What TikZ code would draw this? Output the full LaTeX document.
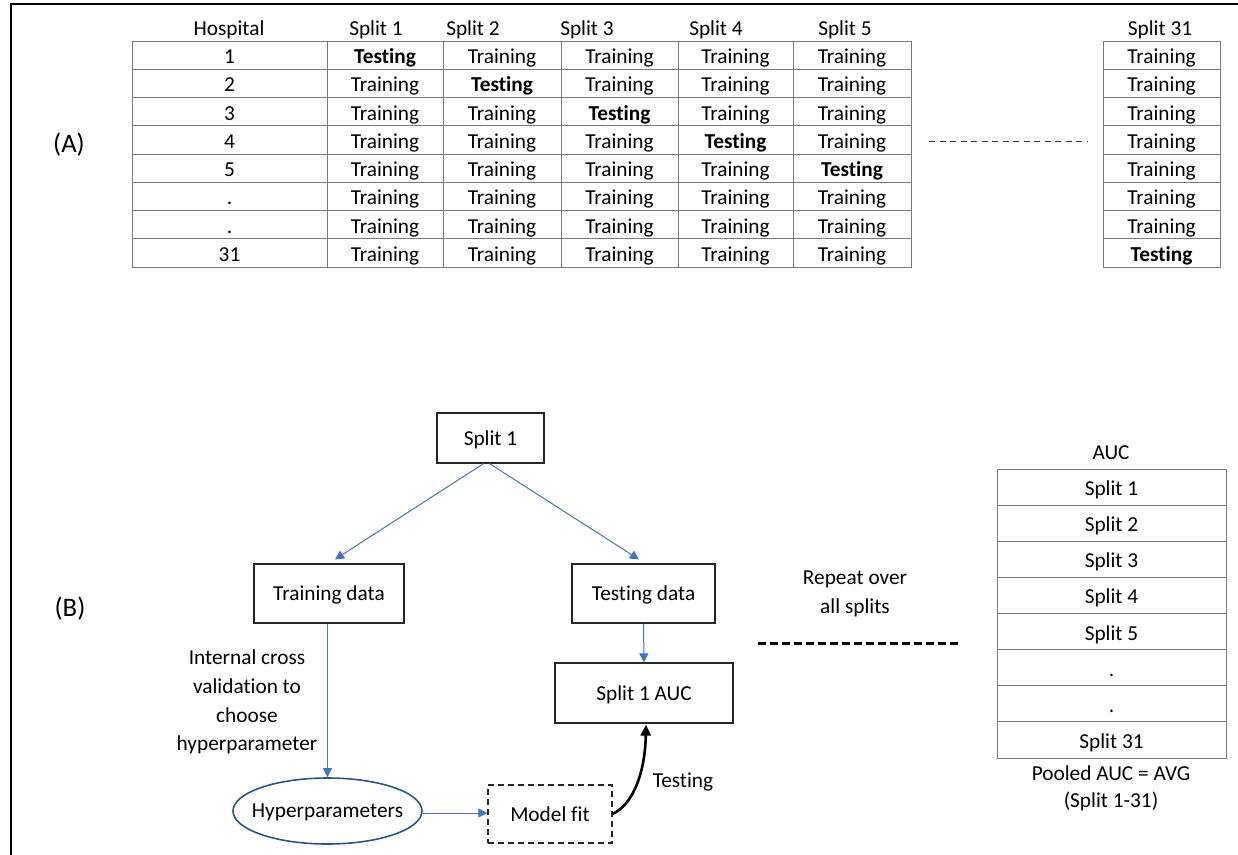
\documentclass[tikz,border=0pt]{standalone}
\usepackage{fontspec}
\setmainfont{Carlito}[Ligatures=NoCommon]
\usetikzlibrary{arrows.meta,shapes.geometric,calc}

\definecolor{flowblue}{HTML}{4472C4}
\definecolor{ringblue}{HTML}{2F528F}
\definecolor{gridgray}{HTML}{7A7A7A}

\tikzset{
  txt/.style={font=\fontsize{21.3}{28.7}\selectfont, inner sep=0pt, align=center},
  panel/.style={font=\fontsize{26.7}{30}\selectfont, inner sep=0pt},
  cell/.style={txt, draw=gridgray, line width=1pt, minimum height=28.25pt, text height=20.8pt, text depth=4pt},
  auccell/.style={txt, draw=gridgray, line width=1pt, minimum height=36.125pt, minimum width=229pt, text height=21pt, text depth=4pt},
  box/.style={txt, draw=black!85, line width=1.2pt, text height=18.5pt, text depth=4pt},
  flow/.style={draw=flowblue, line width=1pt, -{Triangle[length=9pt,width=9pt]}},
  testarrow/.style={draw=black, line width=2.6pt, -{Triangle[length=11pt,width=10pt]}},
}

\begin{document}
\begin{tikzpicture}[x=1pt,y=-1pt]
\useasboundingbox (0,0) rectangle (1238,854);

% outer frame (left and top edges)
\draw[line width=2pt] (11,856) -- (11,4) -- (1240,4);

% ---------- (A) split table ----------
\node[panel] (labA) at (69,145) {(A)};

\node[txt] (hHosp) at (229,29.5) {Hospital};
\node[txt] (hS1) at (376,29.5) {Split 1};
\node[txt] (hS2) at (473,29.5) {Split 2};
\node[txt] (hS3) at (587,29.5) {Split 3};
\node[txt] (hS4) at (716,29.5) {Split 4};
\node[txt] (hS5) at (845,29.5) {Split 5};
\node[txt] (hS31) at (1160,29.5) {Split 31};

\foreach \r/\lab in {1/1,2/2,3/3,4/4,5/5,6/.,7/.,8/31}{
  \pgfmathsetmacro{\yy}{41+28.25*(\r-0.5)}
  \node[cell, minimum width=195pt] (hosp\r) at (229.5,\yy) {\lab};
  \foreach \c/\xx/\ww in {1/385/116,2/502/118,3/619.5/117,4/735.5/115,5/852/118}{
    \ifnum\r=\c
      \node[cell, minimum width=\ww pt] (s\c r\r) at (\xx,\yy) {\textbf{Testing}};
    \else
      \node[cell, minimum width=\ww pt] (s\c r\r) at (\xx,\yy) {Training};
    \fi
  }
  \ifnum\r=8
    \node[cell, minimum width=117pt] (sxr\r) at (1161.5,\yy) {\textbf{Testing}};
  \else
    \node[cell, minimum width=117pt] (sxr\r) at (1161.5,\yy) {Training};
  \fi
}

\coordinate (gapL) at (929,141);
\coordinate (gapR) at (1087,141);
\draw[black!80, line width=1pt, dash pattern=on 6pt off 4.5pt] (gapL) -- (gapR);

% ---------- (B) per-split workflow ----------
\node[panel] (labB) at (70,609) {(B)};

\node[box, minimum width=107pt, minimum height=50pt] (split) at (490.5,438) {Split 1};
\node[box, minimum width=150pt, minimum height=59pt] (train) at (329,593.5) {Training data};
\node[box, minimum width=143pt, minimum height=59pt] (test) at (643.5,593.5) {Testing data};
\node[box, minimum width=178pt, minimum height=60pt] (auc) at (644,693) {Split 1 AUC};
\node[txt, ellipse, draw=ringblue, line width=1.6pt, inner xsep=-20pt, inner ysep=0pt,
      text height=16.5pt, text depth=4pt, minimum width=189pt, minimum height=66pt] (hyp) at (327.5,811) {Hyperparameters};
\node[box, dashed, dash pattern=on 6pt off 4pt, line width=1.1pt, minimum width=124pt, minimum height=58pt] (fit) at (550,814) {Model fit};

\draw[flow] ($(split.south)+(-7,0)$) -- ($(train.north)+(6,-4)$);
\draw[flow] ($(split.south)+(-1,0)$) -- ($(test.north)+(-4.5,-4)$);
\draw[flow] (train.south -| hyp.north) -- (hyp.north);
\draw[flow] (test.south) -- (auc.north);
\draw[flow] ($(hyp.east)+(0,2)$) -- ($(hyp.east -| fit.west)+(0,2)$);
\draw[testarrow] (fit.east) .. controls (632,805) and (645,775) .. ($(auc.south)+(2,1)$);

\node[txt] (cvnote) at (247,702) {Internal cross\\validation to\\choose\\hyperparameter};
\node[txt] (testlbl) at (683,782) {Testing};

\node[txt] (repeat) at (855,594) {Repeat over\\all splits};
\coordinate (repL) at (758,643);
\coordinate (repR) at (960,643);
\draw[black, line width=3pt, dash pattern=on 8pt off 4pt] (repL) -- (repR);

% ---------- AUC summary column ----------
\node[txt] (aucHead) at (1111,453) {AUC};
\foreach \r/\lab in {1/Split 1,2/Split 2,3/Split 3,4/Split 4,5/Split 5,6/.,7/.,8/Split 31}{
  \pgfmathsetmacro{\yy}{469+36.125*(\r-0.5)}
  \node[auccell] (a\r) at (1111.5,\yy) {\lab};
}
\node[txt, font=\fontsize{21.3}{27}\selectfont] (pooled) at (1111,788) {Pooled AUC = AVG\\(Split 1-31)};

\end{tikzpicture}
\end{document}
